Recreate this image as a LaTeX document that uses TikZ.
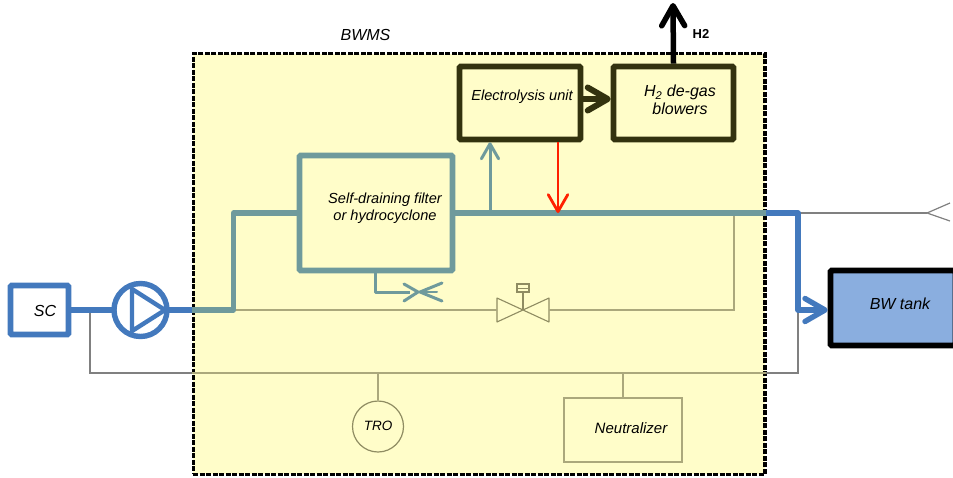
\documentclass[tikz,border=0pt]{standalone}
\usepackage{fontspec}
\setmainfont{Liberation Sans}
\usetikzlibrary{arrows.meta}
\definecolor{bluef}{HTML}{4379BD}
\definecolor{tealf}{HTML}{6F9A9C}
\definecolor{darkb}{HTML}{33320F}
\definecolor{paper}{HTML}{FFFDC9}
\definecolor{olivel}{HTML}{ABA87C}
\definecolor{olived}{HTML}{8F8C62}
\definecolor{grayl}{HTML}{808080}
\definecolor{tankf}{HTML}{8AAEDF}
\tikzset{
 x=1pt,y=-1pt,
 lbl/.style={font=\fontsize{14.6}{17}\selectfont\itshape,align=center,text=black,inner sep=0pt},
 lblb/.style={font=\fontsize{16}{18.5}\selectfont\itshape,align=center,text=black,inner sep=0pt},
 boxn/.style={draw,line width=5.6pt,rounded corners=1pt,inner sep=0pt},
 darkbox/.style={boxn,draw=darkb},
 flowblue/.style={draw=bluef,line width=5.4pt,line join=round},
 flowteal/.style={draw=tealf,line width=5.4pt,line join=round},
 thinol/.style={draw=olivel,line width=1.3pt},
 thingr/.style={draw=grayl,line width=1.3pt},
 barb/.style={-{Straight Barb[length=#1,width=1.15*#1,round]}},
}
\begin{document}
\begin{tikzpicture}
\useasboundingbox (0,0) rectangle (953,477);
% BWMS enclosure
\node[draw=black,fill=paper,line width=3.2pt,dash pattern=on 5pt off 1.5pt,inner sep=0pt,
  minimum width=571.5,minimum height=420.5] (bwms) at (479.2,264) {};
\node[lblb] (bwmsl) at (365.5,35) {BWMS};
% boxes
\node[boxn,draw=bluef,fill=white,minimum width=58,minimum height=49] (sc) at (39.5,310) {};
\node[lblb] (sct) at (45,311) {SC};
\node[boxn,draw=tealf,minimum width=153,minimum height=115] (filter) at (376,213) {};
\node[lbl] (filtert) at (385,208.5) {Self-draining filter\\or hydrocyclone};
\node[darkbox,minimum width=121,minimum height=73] (elec) at (520,103) {};
\node[lbl] (elect) at (522,97) {Electrolysis unit};
\node[darkbox,minimum width=120,minimum height=73] (degas) at (673.5,103) {};
\node[lblb] (degast) at (680,100) {H\textsubscript{2} de-gas\\blowers};
\node[boxn,draw=black,fill=tankf,minimum width=125,minimum height=75] (tank) at (893,308) {};
\node[lblb] (tankt) at (900,304) {BW tank};
\node[draw=bluef,line width=5.4pt,fill=none,circle,minimum size=53,inner sep=0pt,outer sep=0pt] (pump) at (140.5,310) {};
\node[draw=olived,line width=1.2pt,circle,minimum size=51,inner sep=0pt] (tro) at (378,426.5) {};
\node[lbl,font=\fontsize{13.5}{15}\selectfont\itshape] (trot) at (378,426) {TRO};
\node[draw=olivel,line width=1.3pt,minimum width=118,minimum height=64,inner sep=0pt] (neut) at (623,430) {};
\node[lblb,font=\fontsize{15}{17}\selectfont\itshape] (neutt) at (631,428.5) {Neutralizer};
% valve
\coordinate (vc) at (523,310);
\coordinate (vl) at (497,310);
\coordinate (vr) at (549,310);
\draw[draw=olived,line width=1.1pt,line join=round]
  (497,298) -- (549,322) -- (549,298) -- (497,322) -- cycle;
\draw[draw=olived,line width=1.1pt] (vc) -- (523,292);
\node[draw=olived,line width=1.1pt,fill=paper,minimum width=12,minimum height=8,inner sep=0pt] (vtop) at (523,288) {};
\draw[draw=olived,line width=.8pt] (517,288) -- (529,288);
% coordinates
\coordinate (j1) at (233.5,310);
\coordinate (j2) at (233.5,213);
\coordinate (edge) at (192,310);
\coordinate (edge2) at (766,213);
\coordinate (corner) at (798,213);
\coordinate (corner2) at (798,310);
\coordinate (mid1) at (490,213);
\coordinate (mid2) at (558,213);
\coordinate (byp) at (734,213);
\coordinate (byp2) at (734,310);
\coordinate (sj) at (90,310);
\coordinate (sj2) at (90,373);
\coordinate (ej1) at (192,373);
\coordinate (ej2) at (766,373);
\coordinate (rj) at (798,373);
\coordinate (tj) at (378,373);
\coordinate (nj) at (623,373);
% thin lines
\draw[thinol] (j1) -- (vl);
\draw[thinol] (vr) -- (byp2) -- (byp);
\draw[thingr] (sj) -- (sj2) -- (rj) -- (corner2);
\draw[thinol,line width=1.6pt] (ej1) -- (ej2);
\draw[thinol] (tj) -- (tro.north);
\draw[thinol] (nj) -- (neut.north);
\coordinate (fork) at (927,213);
\draw[thingr] (corner) -- (fork);
\draw[thingr,line width=1.2pt] (950,203) -- (fork) -- (950,221);
% flows
\draw[flowblue] (sc.east) -- (pump.west);
\draw[flowblue] (pump.east) -- (edge);
\draw[flowteal] (edge) -- (j1) -- (j2) -- (filter.west);
\draw[flowteal] (filter.east) -- (edge2);
\draw[flowblue,barb=20pt] (edge2) -- (corner) -- (corner2) -- (tank.west |- corner2);
% pump triangle
\draw[draw=bluef,line width=4.4pt,line join=round] (132,289) -- (132,331) -- (165,310) -- cycle;
% drain
\coordinate (d1) at (375,292);
\draw[draw=tealf,line width=3pt,line join=round] (filter.south -| d1) -- (d1) -- (410,292);
\draw[draw=tealf,line width=3pt,line cap=round,line join=round] (404,284) -- (418,292) -- (404,301);
\draw[draw=tealf,line width=3pt,line cap=round,line join=round] (442,283) -- (420,292) -- (442,301);
\draw[draw=tealf,line width=2pt,line cap=round] (420,292) -- (437,292);
% arrows at units
\draw[draw=tealf,line width=3pt,barb=15pt] (mid1) -- (elec.south -| mid1);
\draw[draw=red!75!orange,line width=2.8pt,barb=17pt] (elec.south -| mid2) -- (mid2);
\draw[draw=darkb,line width=6pt,barb=20pt] (elec.east |- 0,99) -- (degas.west |- 0,99);
\coordinate (h2end) at (673,3);
\draw[draw=black,line width=5.5pt,barb=20pt] (degas.north) -- (h2end);
\node[font=\fontsize{13}{15}\selectfont\bfseries,inner sep=0pt] (h2) at (701,34) {H2};
\end{tikzpicture}
\end{document}
